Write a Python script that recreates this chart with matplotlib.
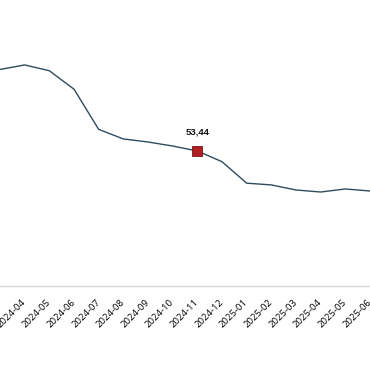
import matplotlib.pyplot as plt
import matplotlib.transforms as mtransforms

months = ['2024-03', '2024-04', '2024-05', '2024-06', '2024-07', '2024-08',
          '2024-09', '2024-10', '2024-11', '2024-12', '2025-01', '2025-02',
          '2025-03', '2025-04', '2025-05', '2025-06']
values = [85.7, 87.5, 85.2, 77.9, 62.0, 58.2, 57.0, 55.4, 53.44, 49.2,
          40.7, 40.0, 38.0, 37.2, 38.4, 37.6]
highlight = '2024-11'

fig = plt.figure(figsize=(3.7, 3.8), dpi=100)
ax = fig.add_axes([0, 0.2474, 1, 0.7526])

x = list(range(len(months)))
ax.plot(x, values, color='#2f4b5e', linewidth=1.0, zorder=2)

hi = months.index(highlight)
ax.plot(hi, values[hi], marker='s', markersize=6.7, color='#b01e23',
        markeredgecolor='#7a1414', markeredgewidth=0.6, linestyle='none', zorder=3)
ax.annotate(f'{values[hi]:.2f}'.replace('.', ','), (hi, values[hi]),
            xytext=(0, 12), textcoords='offset points', ha='center', va='baseline',
            fontsize=6.8, fontweight='bold', family='Liberation Sans', color='#111111')

# the source chart is cropped: first month sits just off the left edge
ax.set_xlim(0.2, 15)
ax.set_ylim(0, 113.2)

ax.set_xticks(x)
ax.set_xticklabels(months, rotation=45, ha='right', va='center', rotation_mode='anchor',
                   fontsize=6.8, family='Open Sans')
shift = mtransforms.ScaledTranslation(2.5 / 100, 0, fig.dpi_scale_trans)
for lab in ax.get_xticklabels():
    lab.set_transform(lab.get_transform() + shift)
ax.tick_params(axis='x', length=0, pad=11)
ax.set_yticks([])

for side in ['top', 'right', 'left']:
    ax.spines[side].set_visible(False)
ax.spines['bottom'].set_color('#d9d9d9')
ax.spines['bottom'].set_linewidth(1.0)

fig.savefig('out.png', dpi=100, facecolor='white')
